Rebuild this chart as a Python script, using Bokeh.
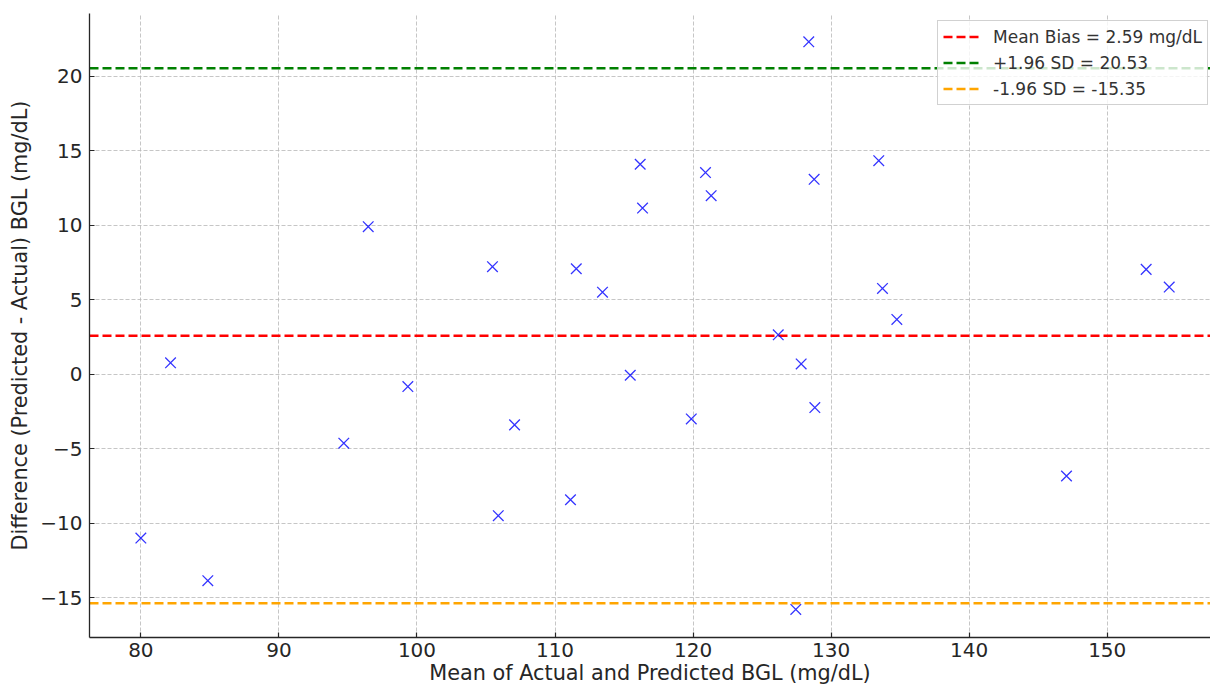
from bokeh.plotting import figure
from bokeh.models import Range1d, FixedTicker, Legend, LegendItem, CustomJSTickFormatter
from bokeh.embed import file_html
from bokeh.resources import INLINE

# ---- data ----
mean_bgl = [80.0, 82.15, 84.85, 94.70, 96.47, 99.34, 105.47, 105.89, 107.07, 111.12,
            111.54, 113.44, 115.45, 116.17, 116.34, 119.87, 120.90, 121.31, 126.17, 127.44,
            127.83, 128.38, 128.77, 128.82, 133.45, 133.72, 134.76, 147.05, 152.82, 154.49]
diff_bgl = [-10.98, 0.77, -13.84, -4.62, 9.90, -0.82, 7.22, -9.48, -3.39, -8.41,
            7.08, 5.51, -0.06, 14.09, 11.15, -2.99, 13.53, 11.98, 2.65, -15.77,
            0.70, 22.30, 13.08, -2.23, 14.33, 5.76, 3.68, -6.82, 7.04, 5.85]

mean_bias = 2.59
upper_loa = 20.53
lower_loa = -15.35

ref_labels = ["Mean Bias = 2.59 mg/dL", "+1.96 SD = 20.53", "-1.96 SD = -15.35"]
ref_values = [mean_bias, upper_loa, lower_loa]
ref_colors = ["red", "green", "orange"]

x_ticks = [80, 90, 100, 110, 120, 130, 140, 150]
y_ticks = [-15, -10, -5, 0, 5, 10, 15, 20]

x_title = "Mean of Actual and Predicted BGL (mg/dL)"
y_title = "Difference (Predicted - Actual) BGL (mg/dL)"

X_LO, X_HI = 76.28, 157.48
Y_LO, Y_HI = -17.65, 24.2

FONT = "DejaVu Sans"
TXT = "#262626"

p = figure(width=1210, height=688, output_backend="svg", toolbar_location=None,
           x_range=Range1d(X_LO, X_HI), y_range=Range1d(Y_LO, Y_HI),
           min_border_left=89, min_border_right=0, min_border_top=13, min_border_bottom=51)

p.outline_line_color = None
p.background_fill_color = "white"
p.border_fill_color = "white"

# grid
for g in (p.xgrid, p.ygrid):
    g.grid_line_color = "#b8b8b8"
    g.grid_line_dash = "4 2"
    g.grid_line_width = 1
    g.grid_line_alpha = 0.8

p.xaxis.ticker = FixedTicker(ticks=x_ticks)
p.yaxis.ticker = FixedTicker(ticks=y_ticks)
p.yaxis.formatter = CustomJSTickFormatter(code="return tick < 0 ? '\u2212' + Math.abs(tick) : String(tick);")
p.xaxis.formatter = CustomJSTickFormatter(code="return String(tick);")

for ax in (p.xaxis[0], p.yaxis[0]):
    ax.axis_line_color = TXT
    ax.axis_line_width = 1.3
    ax.major_tick_in = 5
    ax.major_tick_out = 0
    ax.major_tick_line_color = TXT
    ax.major_tick_line_width = 1.2
    ax.minor_tick_line_color = None
    ax.major_label_text_font = FONT
    ax.major_label_text_font_size = "20px"
    ax.major_label_text_color = TXT
    ax.axis_label_text_font = FONT
    ax.axis_label_text_font_size = "20.8px"
    ax.axis_label_text_font_style = "normal"
    ax.axis_label_text_color = TXT

p.xaxis.major_label_standoff = 5
p.yaxis.major_label_standoff = 7
p.xaxis.axis_label = x_title
p.yaxis.axis_label = y_title
p.xaxis.axis_label_standoff = 1
p.yaxis.axis_label_standoff = 5

# reference lines
items = []
for lab, val, col in zip(ref_labels, ref_values, ref_colors):
    r = p.line(x=[X_LO, X_HI], y=[val, val], line_color=col, line_width=2.5, line_dash="9 4")
    items.append(LegendItem(label=lab, renderers=[r]))

# scatter points
p.scatter(x=mean_bgl, y=diff_bgl, marker="x", size=15, line_color="blue", line_width=1.3, line_alpha=0.8)

legend = Legend(items=items, location=(848, 532))
legend.label_text_font = FONT
legend.label_text_font_size = "17px"
legend.label_text_color = "#333333"
legend.glyph_width = 36
legend.glyph_height = 21
legend.label_height = 21
legend.label_standoff = 14
legend.padding = 5
legend.spacing = 5
legend.margin = 0
legend.background_fill_color = "white"
legend.background_fill_alpha = 0.8
legend.border_line_color = "#cccccc"
legend.border_line_width = 1.3
legend.border_line_alpha = 0.9
p.add_layout(legend, "center")

open("out.html", "w").write(file_html(p, INLINE))
